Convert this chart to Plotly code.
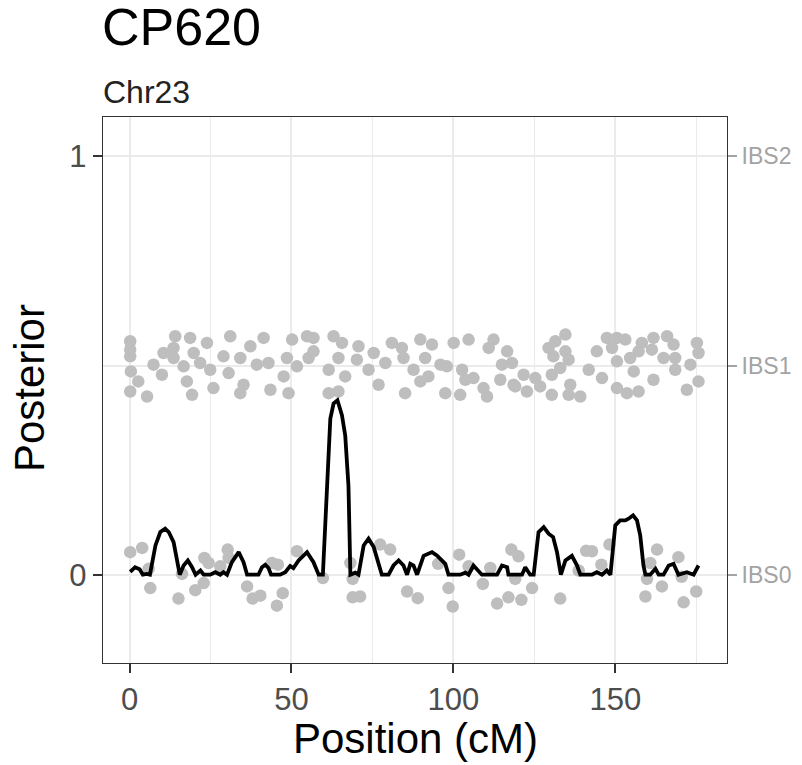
import plotly.graph_objects as go

# ---- data ----
ibs1_pos = [0.2, 0.2, 0.2, 0.4, 2.7, 0.2, 5.4, 7.4, 10.0, 10.5, 13.6, 14.1, 18.7, 16.7, 13.6, 17.7, 19.3, 19.8,
            21.8, 23.9, 24.9, 25.9, 29.0, 31.1, 30.6, 34.2, 35.2, 34.2, 37.3, 39.3, 41.4, 42.9, 43.5, 47.6, 49.1,
            48.6, 50.2, 54.8, 55.3, 51.7,
            56.8, 56.8, 63.0, 65.6, 64.5, 61.5, 66.6, 61.5, 64.5, 70.7, 70.2, 75.4, 73.8, 76.9, 79.0, 81.0, 84.1,
            84.6, 87.7, 85.1, 89.8, 93.4, 91.3, 89.8, 92.3, 96.0, 98.0, 97.5, 100.1, 104.7, 102.7, 103.7, 102.1,
            106.2, 109.3, 110.4, 112.4, 110.9, 116.6, 115.0, 118.1, 114.5, 118.6,
            121.7, 119.1, 122.7, 125.3, 126.8, 130.4, 129.4, 131.5, 134.6, 130.9, 134.6, 135.6, 133.0, 130.4,
            136.1, 135.6, 139.2, 141.8, 144.3, 145.9, 147.4, 150.5, 153.1, 149.0, 150.5, 150.5, 153.6, 157.2,
            155.7, 154.6, 157.2, 158.2, 161.3, 161.8, 161.8, 166.0, 168.0, 164.9, 168.5, 168.5, 173.2, 175.2,
            175.7, 175.7, 172.1]
ibs1_val = [0.558, 0.538, 0.522, 0.486, 0.462, 0.438, 0.426, 0.502, 0.478, 0.530, 0.542, 0.570, 0.566, 0.498,
            0.518, 0.462, 0.430, 0.530, 0.506, 0.554, 0.490, 0.446, 0.522, 0.570, 0.482, 0.518, 0.454, 0.434,
            0.546, 0.502, 0.566, 0.506, 0.442, 0.474, 0.434, 0.518, 0.562, 0.570, 0.518, 0.498,
            0.566, 0.534, 0.570, 0.554, 0.518, 0.490, 0.474, 0.434, 0.438, 0.546, 0.514, 0.530, 0.490, 0.454,
            0.506, 0.554, 0.542, 0.518, 0.490, 0.434, 0.562, 0.550, 0.518, 0.462, 0.474, 0.502, 0.498, 0.434,
            0.554, 0.562, 0.490, 0.466, 0.430, 0.470, 0.446, 0.426, 0.562, 0.542, 0.534, 0.502, 0.506, 0.466,
            0.454,
            0.478, 0.450, 0.438, 0.470, 0.450, 0.430, 0.542, 0.558, 0.574, 0.522, 0.534, 0.514, 0.494, 0.478,
            0.454, 0.430, 0.426, 0.490, 0.534, 0.470, 0.566, 0.566, 0.562, 0.542, 0.510, 0.446, 0.434, 0.438,
            0.486, 0.518, 0.534, 0.554, 0.538, 0.566, 0.466, 0.570, 0.550, 0.518, 0.518, 0.490, 0.502, 0.554,
            0.530, 0.462, 0.442]

ibs0_pos = [0.2, 3.9, 5.9, 6.4, 15.1, 16.2, 20.3, 22.9, 23.1, 24.4, 28.0, 30.3, 30.6, 36.3, 38.0, 40.4, 45.5,
            47.3, 44.0, 45.8, 51.7, 59.7, 68.2, 68.9, 68.9, 71.2, 77.4, 80.5, 85.7, 89.0, 95.3, 98.5, 99.8,
            101.8, 104.7, 109.1, 111.4, 113.5, 117.0, 117.9, 120.1, 119.1, 121.0, 124.3, 133.0, 138.7, 141.0,
            142.8, 145.7, 148.2, 159.3, 159.8, 160.8, 162.9, 164.4, 169.5, 170.5, 171.1, 175.0]
ibs0_val = [0.054, 0.064, 0.014, -0.032, -0.057, 0.002, -0.037, -0.020, 0.040, 0.028, 0.020, 0.060, 0.040,
            -0.028, -0.057, -0.050, -0.074, -0.044, 0.028, 0.024, 0.056, -0.008, 0.028, -0.010, -0.054, -0.052,
            0.072, 0.060, -0.040, -0.056, 0.026, -0.032, -0.076, 0.048, 0.020, -0.022, 0.016, -0.069, -0.054,
            0.060, 0.044, -0.010, -0.060, -0.032, -0.057, 0.010, 0.057, 0.056, 0.024, 0.072, -0.052, -0.010,
            0.028, 0.060, -0.028, 0.042, -0.005, -0.066, -0.040]

post_pos = [0.2, 1.7, 3.1, 4.1, 5.3, 6.3, 8.0, 9.5, 11.0, 12.1, 13.6, 14.6, 15.5, 16.7, 18.0, 19.3, 20.4, 21.9,
            22.9, 24.9, 26.5, 28.0, 29.0, 30.1, 31.6, 33.7, 35.2, 36.3, 39.8, 40.9, 41.9, 42.9, 43.7, 46.5,
            48.1, 49.6, 50.6, 52.2, 54.8, 56.8, 58.4, 59.7, 61.0, 62.0, 63.0, 64.2, 65.6, 66.6, 67.6, 68.2,
            69.7, 70.7, 72.3, 73.8, 75.4, 76.9, 77.9, 80.0, 81.5, 83.1, 84.6, 85.7, 86.7, 87.7, 88.8, 90.8,
            93.4, 94.9, 96.5, 97.5, 98.5, 102.1, 103.7, 104.7, 106.2, 107.8, 108.8, 113.5, 115.0, 116.6, 117.0,
            121.2, 122.2, 123.7, 124.8, 126.3, 127.9, 129.4, 130.8, 132.0, 133.2, 134.6, 136.6, 138.2, 139.2,
            142.8, 144.3, 145.9, 147.4, 148.5, 150.0, 151.5, 153.1, 154.1, 155.5, 156.7, 157.7, 158.7, 159.3,
            160.8, 162.4, 163.4, 164.9, 166.5, 168.0, 169.5, 172.1, 174.2, 175.7]
post_val = [0.007, 0.018, 0.013, 0.0, 0.002, 0.0, 0.070, 0.102, 0.110, 0.102, 0.078, 0.038, 0.0, 0.022, 0.034,
            0.018, 0.0, 0.010, 0.0, 0.0, 0.006, 0.0, 0.006, 0.0, 0.030, 0.054, 0.030, 0.0, 0.0, 0.018, 0.024,
            0.016, 0.0, 0.0, 0.006, 0.021, 0.016, 0.034, 0.054, 0.030, 0.0, 0.0, 0.213, 0.373, 0.409, 0.417,
            0.381, 0.333, 0.213, 0.0, 0.005, 0.0, 0.070, 0.086, 0.066, 0.022, 0.0, 0.0, 0.022, 0.034, 0.022,
            0.0, 0.026, 0.022, 0.0, 0.045, 0.054, 0.046, 0.034, 0.026, 0.0, 0.0, 0.005, 0.0, 0.022, 0.010, 0.0,
            0.0, 0.022, 0.018, 0.0, 0.0, 0.018, 0.0, 0.0, 0.102, 0.114, 0.098, 0.090, 0.054, 0.0, 0.034, 0.045,
            0.022, 0.0, 0.0, 0.006, 0.0, 0.010, 0.0, 0.118, 0.130, 0.130, 0.134, 0.142, 0.130, 0.094, 0.022,
            0.0, 0.0, 0.014, 0.0, 0.0, 0.022, 0.026, 0.0, 0.006, 0.0, 0.022]

left_ticks = [0, 1]
right_ticks = [0, 0.5, 1]
right_labels = ["IBS0", "IBS1", "IBS2"]
x_ticks = [0, 50, 100, 150]
x_minor = [25, 75, 125, 175]

FONT = "Liberation Sans, Arial, sans-serif"
GRID = "#EBEBEB"
YR = [-0.211, 1.094]

fig = go.Figure()
fig.add_trace(go.Scatter(x=ibs1_pos, y=ibs1_val, mode="markers",
                         marker=dict(color="#BEBEBE", size=12.5, line=dict(width=0)),
                         hoverinfo="skip", showlegend=False))
fig.add_trace(go.Scatter(x=ibs0_pos, y=ibs0_val, mode="markers",
                         marker=dict(color="#BEBEBE", size=12.5, line=dict(width=0)),
                         hoverinfo="skip", showlegend=False))
fig.add_trace(go.Scatter(x=post_pos, y=post_val, mode="lines",
                         line=dict(color="black", width=3.8),
                         hoverinfo="skip", showlegend=False))
fig.add_trace(go.Scatter(x=[], y=[], yaxis="y2", showlegend=False, hoverinfo="skip"))

# page body has an 8px default margin, so the figure is sized 794x757 and offset by it
fig.update_layout(
    width=794, height=757,
    margin=dict(l=94.7, r=75.3, t=109.3, b=101.7, pad=0),
    paper_bgcolor="white", plot_bgcolor="white",
    font=dict(family=FONT),
    xaxis=dict(range=[-8.2, 184.5], tickvals=x_ticks, showgrid=True, gridcolor=GRID, gridwidth=1.7,
               minor=dict(tickvals=x_minor, showgrid=True, gridcolor=GRID, gridwidth=1, ticks=""),
               zeroline=False, showline=True, mirror=True, linecolor="#333333", linewidth=1.4,
               ticks="outside", ticklen=9, tickwidth=2, tickcolor="#333333",
               tickfont=dict(size=31, color="#4D4D4D", family=FONT)),
    yaxis=dict(range=YR, tickvals=left_ticks, showgrid=True, gridcolor=GRID, gridwidth=1.7,
               minor=dict(tickvals=[0.5], showgrid=True, gridcolor=GRID, gridwidth=1.7, ticks=""),
               zeroline=False, showline=True, mirror=True, linecolor="#333333", linewidth=1.4,
               ticks="outside", ticklen=9, tickwidth=2, tickcolor="#333333",
               tickfont=dict(size=31, color="#4D4D4D", family=FONT)),
    yaxis2=dict(range=YR, overlaying="y", side="right", tickvals=right_ticks, ticktext=right_labels,
                showgrid=False, zeroline=False, showline=False,
                ticks="outside", ticklen=9, tickwidth=2, tickcolor="#A3A3A3",
                tickfont=dict(size=23, color="#A3A3A3", family=FONT)),
    annotations=[
        dict(text="CP620", xref="paper", yref="paper", x=0, y=1.1645, xanchor="left", yanchor="middle",
             showarrow=False, xshift=-3, font=dict(size=52, color="black", family=FONT)),
        dict(text="Chr23", xref="paper", yref="paper", x=0, y=1.0454, xanchor="left", yanchor="middle",
             showarrow=False, xshift=-2, font=dict(size=32, color="#222222", family=FONT)),
        dict(text="Position (cM)", xref="paper", yref="paper", x=0.5, y=-0.1386, xanchor="center",
             yanchor="middle", showarrow=False, font=dict(size=42, color="black", family=FONT)),
        dict(text="Posterior", xref="paper", yref="paper", x=-0.1165, y=0.504, xanchor="center",
             yanchor="middle", textangle=-90, showarrow=False, font=dict(size=42, color="black", family=FONT)),
    ],
)

fig.write_html("out.html")
